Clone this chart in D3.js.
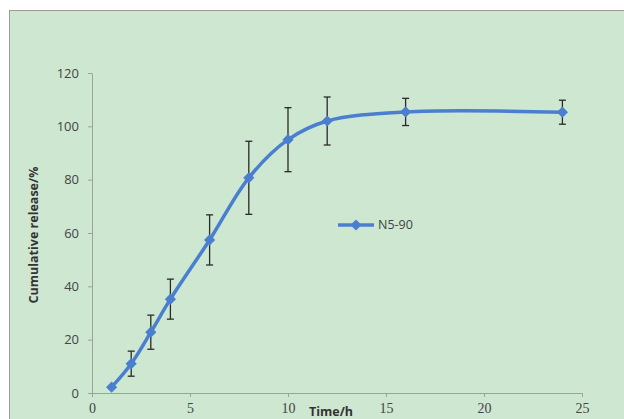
<!DOCTYPE html>
<html>
<head>
<meta charset="UTF-8" />
<style>
  body { margin: 0; background: #fff; }
</style>
<script src="https://cdn.jsdelivr.net/npm/d3@7"></script>
</head>
<body>
<script>
    // data
    let times = [1, 2, 3, 4, 6, 8, 10, 12, 16, 24];
    let release = [2.2, 11, 22.8, 35.2, 57.4, 80.7, 95, 102, 105.4, 105.3];
    let errors = [0, 4.7, 6.4, 7.5, 9.4, 13.7, 12, 9, 5.1, 4.5];
    let xTicks = [0, 5, 10, 15, 20, 25];
    let yTicks = [0, 20, 40, 60, 80, 100, 120];
    let seriesName = "N5-90";

    let w = 624, h = 419;
    let blue = "#4a7fcf";

    let svg = d3.select("body").append("svg")
        .attr("width", w)
        .attr("height", h);

    // green panel
    svg.append("rect")
        .attr("x", 9.5).attr("y", 10.5)
        .attr("width", w + 10).attr("height", h + 10)
        .attr("fill", "#cde7d1")
        .attr("stroke", "#9a9a9a");

    let x = d3.scaleLinear().domain([0, 25]).range([92, 582]);
    let y = d3.scaleLinear().domain([0, 120]).range([393, 73]);

    // x axis
    let xAxis = svg.append("g")
        .attr("transform", `translate(0,${y(0)})`)
        .call(d3.axisBottom(x).tickValues(xTicks).tickSize(4).tickSizeOuter(0));
    xAxis.select(".domain").attr("stroke", "#a0a0a0");
    xAxis.selectAll("line").attr("stroke", "#a0a0a0");
    xAxis.selectAll("text")
        .attr("font-family", "Liberation Serif, serif")
        .attr("font-size", 14)
        .attr("fill", "#444")
        .attr("dy", "0.95em");

    // y axis
    let yAxis = svg.append("g")
        .attr("transform", `translate(${x(0)},0)`)
        .call(d3.axisLeft(y).tickValues(yTicks).tickSize(4).tickSizeOuter(0));
    yAxis.select(".domain").attr("stroke", "#a0a0a0");
    yAxis.selectAll("line").attr("stroke", "#a0a0a0");
    yAxis.selectAll("text")
        .attr("font-family", "Open Sans, sans-serif")
        .attr("font-size", 13)
        .attr("fill", "#444")
        .attr("x", -13);

    // axis titles
    svg.append("text")
        .attr("x", 331).attr("y", 416)
        .attr("text-anchor", "middle")
        .attr("font-family", "Open Sans, sans-serif")
        .attr("font-weight", "bold")
        .attr("font-size", 12.5)
        .attr("fill", "#333")
        .text("Time/h");

    svg.append("text")
        .attr("transform", "translate(38,235) rotate(-90)")
        .attr("text-anchor", "middle")
        .attr("font-family", "Open Sans, sans-serif")
        .attr("font-weight", "bold")
        .attr("font-size", 12.5)
        .attr("fill", "#333")
        .text("Cumulative release/%");

    let pts = times.map((t, i) => ({ t: t, v: release[i], e: errors[i] }));

    // error bars
    let eb = svg.append("g").attr("stroke", "#2a2a2a").attr("stroke-width", 1.3);
    pts.filter(d => d.e > 0).forEach(d => {
        eb.append("line")
            .attr("x1", x(d.t)).attr("x2", x(d.t))
            .attr("y1", y(d.v + d.e)).attr("y2", y(d.v - d.e));
        [d.v + d.e, d.v - d.e].forEach(v => {
            eb.append("line")
                .attr("x1", x(d.t) - 3.5).attr("x2", x(d.t) + 3.5)
                .attr("y1", y(v)).attr("y2", y(v));
        });
    });

    // smoothed line
    let line = d3.line()
        .x(d => x(d.t))
        .y(d => y(d.v))
        .curve(d3.curveCatmullRom.alpha(0.5));

    svg.append("path")
        .datum(pts)
        .attr("d", line)
        .attr("fill", "none")
        .attr("stroke", blue)
        .attr("stroke-width", 3.5);

    let diamond = d3.symbol().type(d3.symbolDiamond2).size(80);
    svg.selectAll(".pt")
        .data(pts)
        .enter()
        .append("path")
        .attr("transform", d => `translate(${x(d.t)},${y(d.v)})`)
        .attr("d", diamond)
        .attr("fill", blue);

    // legend
    let lg = svg.append("g").attr("transform", "translate(338,225)");
    lg.append("line")
        .attr("x1", 0).attr("x2", 36)
        .attr("stroke", blue).attr("stroke-width", 3.5);
    lg.append("path")
        .attr("transform", "translate(18,0)")
        .attr("d", diamond)
        .attr("fill", blue);
    lg.append("text")
        .attr("x", 40).attr("y", 0).attr("dy", "0.35em")
        .attr("font-family", "Open Sans, sans-serif")
        .attr("font-size", 12.5)
        .attr("fill", "#444")
        .text(seriesName);
</script>
</body>
</html>
